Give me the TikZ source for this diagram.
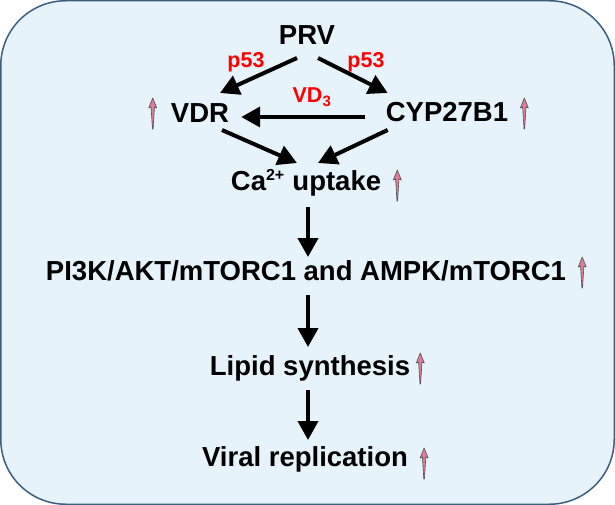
\documentclass[tikz,border=0pt]{standalone}
\usepackage{fontspec}
\setmainfont{Liberation Sans}
\usetikzlibrary{arrows.meta,calc}
\definecolor{bgc}{HTML}{E6F3FB}
\definecolor{bdc}{HTML}{3A5F80}
\definecolor{pinkc}{HTML}{E07C98}
\definecolor{pinkd}{HTML}{505050}
\definecolor{redc}{HTML}{FF0000}
\begin{document}
\begin{tikzpicture}[x=1pt,y=-1pt,
  lbl/.style={font=\bfseries\fontsize{27.5}{32}\selectfont, inner sep=0pt, anchor=base},
  rlbl/.style={font=\bfseries\fontsize{21.5}{25}\selectfont, text=redc, inner sep=0pt, anchor=base},
  arr/.style={line width=4pt, -{Triangle[length=19pt,width=20pt]}},
  uparr/.pic={\draw[pinkd, line width=0.6pt, fill=pinkc, line join=round]
     (0,0) -- (4,10) -- (1.7,9) -- (0.3,31) -- (-0.3,31) -- (-1.7,9) -- (-4,10) -- cycle;}]
\useasboundingbox (0,0) rectangle (615,505);
\draw[bdc, fill=bgc, line width=1.5pt, rounded corners=65pt] (0.75,0.75) rectangle (614.25,504.25);
% nodes
\node[lbl] (prv) at (307,45) {PRV};
\node[lbl] (vdr) at (200,123) {VDR};
\node[lbl] (cyp) at (447,122) {CYP27B1};
\node[lbl] (ca) at (306,190) {Ca\textsuperscript{\fontsize{16}{18}\selectfont 2+} uptake};
\node[lbl] (pi) at (306,280) {PI3K/AKT/mTORC1 and AMPK/mTORC1};
\node[lbl] (lip) at (310,375) {Lipid synthesis};
\node[lbl] (vir) at (305,466) {Viral replication};
\node[rlbl] (p1) at (246,68) {p53};
\node[rlbl] (p2) at (366,68) {p53};
\node[rlbl] (vd) at (312,103) {VD\textsubscript{3}};
% connectors
\draw[arr] ([shift={(-10,13)}]prv.base) -- ([shift={(20,-30)}]vdr.base);
\draw[arr] ([shift={(11,13)}]prv.base) -- ([shift={(2,-29)}]cyp.base west);
\draw[arr] ([shift={(-21,-5)}]cyp.base west) -- ([shift={(12,-6)}]vdr.base east);
\draw[arr] ([shift={(22,7)}]vdr.base) -- ([shift={(-9,-27)}]ca.base);
\draw[arr] ([shift={(2,8)}]cyp.base west) -- ([shift={(12,-27)}]ca.base);
\draw[arr] ([shift={(2,17)}]ca.base) -- ([shift={(2,-23)}]pi.base);
\draw[arr] ([shift={(2,15)}]pi.base) -- ([shift={(-2,-28)}]lip.base);
\draw[arr] ([shift={(-2,15)}]lip.base) -- ([shift={(3,-26)}]vir.base);
% up arrows
\pic at ([shift={(-18,-25)}]vdr.base west) {uparr};
\pic at ([shift={(16,-24)}]cyp.base east) {uparr};
\pic at ([shift={(16,-20)}]ca.base east) {uparr};
\pic at ([shift={(16,-23)}]pi.base east) {uparr};
\pic at ([shift={(10,-22)}]lip.base east) {uparr};
\pic at ([shift={(16,-18)}]vir.base east) {uparr};
\end{tikzpicture}
\end{document}
